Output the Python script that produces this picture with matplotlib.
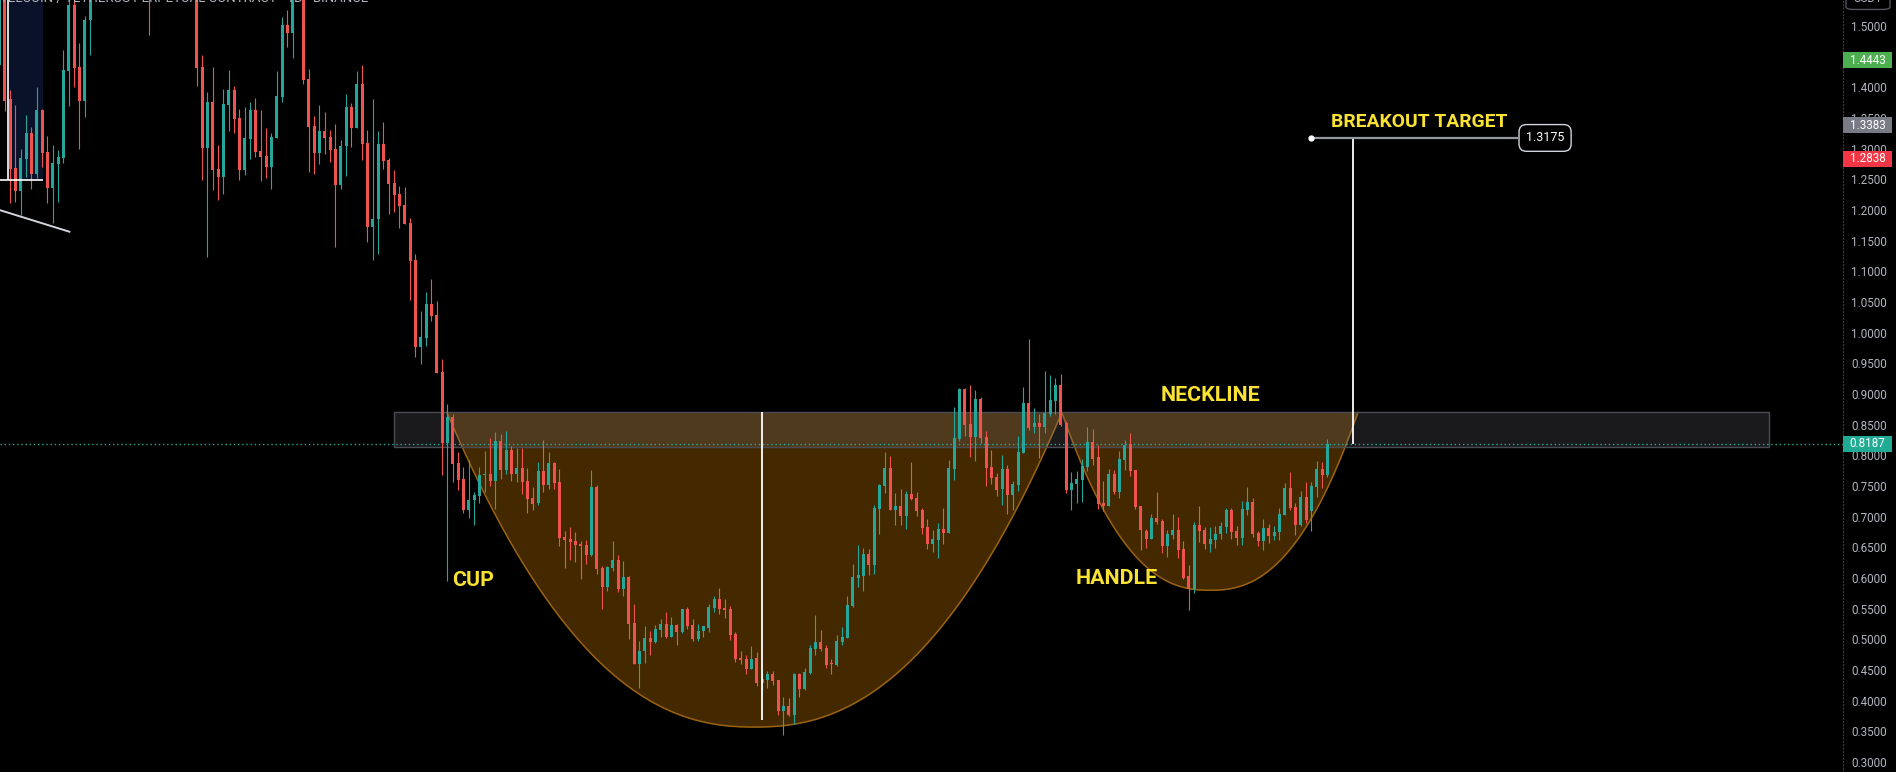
import numpy as np
import matplotlib.pyplot as plt
from matplotlib.patches import Rectangle, FancyBboxPatch
from matplotlib.transforms import blended_transform_factory

# daily candles, left to right (values above ~1.54 run off the top of the view)
opens = [
    1.436, 1.58, 1.381, 1.268, 1.231, 1.283, 1.325, 1.259, 1.363, 1.295,
    1.236, 1.275, 1.285, 1.427, 1.534, 1.433, 1.378, 1.510, 1.58, 1.62,
    1.65, 1.63, 1.67, 1.71, 1.68, 1.64, 1.61, 1.63, 1.62, 1.58,
    1.61, 1.64, 1.62, 1.65, 1.63, 1.60, 1.62, 1.59, 1.433, 1.301,
    1.376, 1.267, 1.254, 1.371, 1.396, 1.350, 1.265, 1.316, 1.363, 1.296,
    1.288, 1.270, 1.318, 1.384, 1.502, 1.489, 1.57, 1.60, 1.414, 1.337,
    1.293, 1.329, 1.319, 1.300, 1.241, 1.304, 1.368, 1.334, 1.405, 1.309,
    1.172, 1.185, 1.308, 1.282, 1.244, 1.226, 1.208, 1.179, 1.118, 0.977,
    0.991, 1.047, 1.029, 0.936, 0.820, 0.862, 0.787, 0.762, 0.711, 0.727,
    0.734, 0.768, 0.770, 0.758, 0.823, 0.776, 0.809, 0.770, 0.779, 0.758,
    0.731, 0.722, 0.774, 0.752, 0.787, 0.756, 0.667, 0.664, 0.660, 0.655,
    0.654, 0.637, 0.748, 0.616, 0.585, 0.617, 0.629, 0.582, 0.602, 0.527,
    0.460, 0.481, 0.502, 0.496, 0.515, 0.525, 0.504, 0.523, 0.512, 0.549,
    0.524, 0.500, 0.513, 0.519, 0.551, 0.566, 0.551, 0.549, 0.509, 0.469,
    0.468, 0.452, 0.469, 0.429, 0.434, 0.444, 0.434, 0.383, 0.391, 0.377,
    0.444, 0.419, 0.445, 0.484, 0.496, 0.486, 0.460, 0.458, 0.496, 0.502,
    0.554, 0.600, 0.603, 0.639, 0.621, 0.713, 0.750, 0.779, 0.711, 0.717,
    0.701, 0.737, 0.730, 0.711, 0.683, 0.655, 0.662, 0.680, 0.673, 0.778,
    0.827, 0.908, 0.851, 0.830, 0.892, 0.830, 0.781, 0.765, 0.745, 0.778,
    0.735, 0.752, 0.804, 0.885, 0.846, 0.853, 0.846, 0.867, 0.889, 0.915,
    0.853, 0.743, 0.753, 0.760, 0.781, 0.822, 0.797, 0.722, 0.717, 0.770,
    0.740, 0.792, 0.818, 0.776, 0.717, 0.677, 0.664, 0.698, 0.693, 0.652,
    0.670, 0.678, 0.647, 0.603, 0.582, 0.686, 0.678, 0.655, 0.662, 0.672,
    0.683, 0.711, 0.677, 0.665, 0.711, 0.724, 0.673, 0.660, 0.681, 0.668,
    0.675, 0.703, 0.747, 0.716, 0.686, 0.732, 0.710, 0.749, 0.778, 0.768,
]
highs = [
    1.60, 1.60, 1.396, 1.371, 1.300, 1.355, 1.335, 1.400, 1.365, 1.320,
    1.306, 1.298, 1.461, 1.56, 1.56, 1.472, 1.516, 1.60, 1.64, 1.68,
    1.70, 1.69, 1.74, 1.75, 1.72, 1.67, 1.66, 1.66, 1.65, 1.63,
    1.66, 1.68, 1.67, 1.69, 1.66, 1.64, 1.65, 1.61, 1.453, 1.392,
    1.433, 1.306, 1.397, 1.428, 1.402, 1.365, 1.368, 1.376, 1.383, 1.363,
    1.334, 1.326, 1.427, 1.515, 1.526, 1.60, 1.63, 1.62, 1.430, 1.353,
    1.371, 1.360, 1.330, 1.340, 1.314, 1.389, 1.374, 1.427, 1.436, 1.330,
    1.381, 1.329, 1.343, 1.284, 1.265, 1.239, 1.238, 1.187, 1.128, 1.035,
    1.066, 1.088, 1.052, 0.957, 0.884, 0.867, 0.805, 0.781, 0.792, 0.740,
    0.781, 0.807, 0.828, 0.838, 0.835, 0.840, 0.815, 0.812, 0.812, 0.779,
    0.748, 0.789, 0.825, 0.805, 0.789, 0.778, 0.677, 0.683, 0.675, 0.660,
    0.662, 0.776, 0.752, 0.620, 0.620, 0.660, 0.637, 0.628, 0.603, 0.558,
    0.497, 0.522, 0.513, 0.523, 0.533, 0.545, 0.536, 0.525, 0.549, 0.553,
    0.533, 0.525, 0.522, 0.558, 0.571, 0.584, 0.566, 0.554, 0.512, 0.481,
    0.474, 0.489, 0.479, 0.452, 0.448, 0.448, 0.434, 0.406, 0.404, 0.445,
    0.445, 0.453, 0.491, 0.539, 0.515, 0.491, 0.468, 0.507, 0.520, 0.571,
    0.623, 0.654, 0.649, 0.647, 0.719, 0.753, 0.805, 0.799, 0.739, 0.745,
    0.742, 0.789, 0.740, 0.714, 0.696, 0.678, 0.690, 0.714, 0.792, 0.879,
    0.910, 0.910, 0.915, 0.906, 0.895, 0.840, 0.809, 0.771, 0.800, 0.784,
    0.758, 0.832, 0.911, 0.990, 0.877, 0.867, 0.938, 0.931, 0.926, 0.933,
    0.856, 0.773, 0.774, 0.794, 0.846, 0.843, 0.817, 0.758, 0.778, 0.776,
    0.807, 0.825, 0.836, 0.776, 0.717, 0.680, 0.704, 0.740, 0.696, 0.678,
    0.704, 0.700, 0.660, 0.621, 0.691, 0.717, 0.683, 0.683, 0.685, 0.691,
    0.714, 0.714, 0.685, 0.725, 0.748, 0.730, 0.677, 0.696, 0.688, 0.685,
    0.714, 0.755, 0.773, 0.722, 0.742, 0.757, 0.757, 0.791, 0.789, 0.827,
]
lows = [
    1.433, 1.362, 1.211, 1.213, 1.192, 1.254, 1.234, 1.252, 1.270, 1.211,
    1.179, 1.213, 1.277, 1.370, 1.400, 1.300, 1.352, 1.453, 1.56, 1.59,
    1.60, 1.58, 1.64, 1.66, 1.62, 1.58, 1.57, 1.58, 1.485, 1.56,
    1.58, 1.60, 1.59, 1.61, 1.57, 1.56, 1.57, 1.402, 1.249, 1.123,
    1.233, 1.216, 1.226, 1.329, 1.326, 1.249, 1.257, 1.283, 1.287, 1.247,
    1.252, 1.234, 1.317, 1.376, 1.466, 1.448, 1.55, 1.405, 1.262, 1.259,
    1.275, 1.291, 1.278, 1.140, 1.234, 1.255, 1.303, 1.334, 1.282, 1.148,
    1.118, 1.128, 1.267, 1.193, 1.197, 1.171, 1.177, 1.053, 0.960, 0.949,
    0.978, 1.019, 0.934, 0.768, 0.595, 0.757, 0.744, 0.706, 0.698, 0.686,
    0.722, 0.740, 0.750, 0.712, 0.761, 0.770, 0.758, 0.757, 0.737, 0.706,
    0.711, 0.719, 0.740, 0.745, 0.745, 0.652, 0.616, 0.629, 0.626, 0.598,
    0.623, 0.636, 0.606, 0.550, 0.579, 0.611, 0.577, 0.571, 0.500, 0.460,
    0.421, 0.461, 0.474, 0.494, 0.504, 0.502, 0.504, 0.491, 0.510, 0.517,
    0.497, 0.498, 0.504, 0.512, 0.545, 0.541, 0.535, 0.499, 0.463, 0.460,
    0.443, 0.452, 0.424, 0.411, 0.420, 0.425, 0.377, 0.344, 0.375, 0.362,
    0.406, 0.417, 0.443, 0.474, 0.481, 0.453, 0.443, 0.457, 0.491, 0.502,
    0.553, 0.585, 0.579, 0.605, 0.607, 0.672, 0.739, 0.711, 0.686, 0.686,
    0.680, 0.727, 0.701, 0.672, 0.647, 0.642, 0.633, 0.655, 0.673, 0.760,
    0.823, 0.832, 0.797, 0.790, 0.820, 0.750, 0.753, 0.734, 0.719, 0.704,
    0.711, 0.742, 0.804, 0.841, 0.836, 0.796, 0.836, 0.864, 0.867, 0.848,
    0.739, 0.711, 0.722, 0.724, 0.774, 0.784, 0.712, 0.709, 0.717, 0.737,
    0.730, 0.776, 0.766, 0.713, 0.646, 0.649, 0.664, 0.688, 0.641, 0.634,
    0.664, 0.633, 0.598, 0.548, 0.576, 0.659, 0.647, 0.642, 0.649, 0.664,
    0.673, 0.664, 0.654, 0.654, 0.703, 0.667, 0.652, 0.646, 0.657, 0.662,
    0.662, 0.703, 0.711, 0.670, 0.685, 0.690, 0.677, 0.732, 0.747, 0.765,
]
closes = [
    1.58, 1.378, 1.267, 1.231, 1.285, 1.326, 1.259, 1.363, 1.293, 1.236,
    1.277, 1.286, 1.428, 1.534, 1.431, 1.378, 1.510, 1.58, 1.62, 1.65,
    1.63, 1.67, 1.71, 1.68, 1.64, 1.61, 1.63, 1.62, 1.58, 1.61,
    1.64, 1.62, 1.65, 1.63, 1.60, 1.62, 1.59, 1.431, 1.301, 1.376,
    1.265, 1.254, 1.373, 1.396, 1.348, 1.265, 1.317, 1.363, 1.295, 1.286,
    1.270, 1.319, 1.386, 1.502, 1.489, 1.57, 1.60, 1.412, 1.335, 1.293,
    1.329, 1.317, 1.298, 1.241, 1.304, 1.368, 1.334, 1.405, 1.308, 1.172,
    1.185, 1.308, 1.280, 1.242, 1.224, 1.207, 1.177, 1.117, 0.977, 0.993,
    1.047, 1.027, 0.934, 0.820, 0.862, 0.786, 0.760, 0.711, 0.727, 0.735,
    0.768, 0.770, 0.758, 0.823, 0.776, 0.809, 0.770, 0.779, 0.757, 0.729,
    0.721, 0.774, 0.752, 0.787, 0.755, 0.665, 0.662, 0.659, 0.654, 0.652,
    0.637, 0.748, 0.615, 0.585, 0.618, 0.629, 0.582, 0.602, 0.525, 0.460,
    0.481, 0.502, 0.496, 0.517, 0.525, 0.504, 0.523, 0.512, 0.549, 0.522,
    0.500, 0.513, 0.521, 0.553, 0.566, 0.549, 0.548, 0.507, 0.468, 0.467,
    0.452, 0.468, 0.429, 0.435, 0.444, 0.432, 0.383, 0.391, 0.377, 0.444,
    0.419, 0.447, 0.486, 0.496, 0.484, 0.458, 0.459, 0.497, 0.504, 0.556,
    0.602, 0.605, 0.639, 0.621, 0.714, 0.752, 0.779, 0.711, 0.717, 0.701,
    0.737, 0.729, 0.709, 0.682, 0.655, 0.664, 0.680, 0.673, 0.779, 0.828,
    0.908, 0.849, 0.830, 0.892, 0.828, 0.779, 0.763, 0.743, 0.778, 0.735,
    0.753, 0.805, 0.885, 0.845, 0.853, 0.846, 0.869, 0.890, 0.915, 0.850,
    0.743, 0.755, 0.761, 0.783, 0.822, 0.794, 0.721, 0.717, 0.770, 0.740,
    0.794, 0.817, 0.774, 0.716, 0.678, 0.664, 0.698, 0.691, 0.652, 0.672,
    0.678, 0.646, 0.600, 0.582, 0.686, 0.677, 0.655, 0.664, 0.672, 0.685,
    0.711, 0.675, 0.665, 0.712, 0.724, 0.672, 0.660, 0.681, 0.668, 0.675,
    0.704, 0.747, 0.714, 0.686, 0.732, 0.695, 0.750, 0.778, 0.768, 0.8187,
]

# price scale
price_ticks = [round(0.30 + 0.05 * k, 2) for k in range(25)]
# coloured price tags on the scale
tag_prices = [1.4443, 1.3383, 1.2838, 0.8187]
tag_colors = ['#4caf50', '#787b86', '#f23645', '#22ab94']
last_price = 0.8187

# pattern drawing (bar index, price)
neck_lo, neck_hi = 0.814, 0.870
neck_x0, neck_x1 = 74.0, 331.8
cup_x0, cup_x1, cup_bottom = 83.9, 199.2, 0.357
handle_x0, handle_x1, handle_bottom = 199.2, 254.7, 0.580
cup_mid_x, cup_mid_lo = 143.0, 0.368
target_x, target_price = 253.8, 1.3175
target_line_x0, target_line_x1, target_tag_x = 245.85, 284.7, 289.8

UP, DOWN = '#26a69a', '#ef5350'
YELLOW = '#f9e231'
ORANGE = '#ff9800'

fig = plt.figure(figsize=(18.96, 7.72), dpi=100, facecolor='black')
ax = fig.add_axes([0, 0, 1843 / 1896, 1])
ax.set_facecolor('black')

idx = np.arange(len(closes))
o = np.array(opens)
c = np.array(closes)
h = np.array(highs)
l = np.array(lows)
col = np.where(c >= o, UP, DOWN)

ax.vlines(idx, l, h, colors=col, linewidth=0.8, zorder=5)
body = np.maximum(np.abs(c - o), 0.0018)
ax.bar(idx, body, bottom=np.minimum(o, c), width=0.6, color=col, linewidth=0, zorder=6)


def arc(x0, x1, top, bottom, p, n=400):
    xs = np.linspace(x0, x1, n)
    u = (xs - (x0 + x1) / 2) / ((x1 - x0) / 2)
    return xs, bottom + (top - bottom) * np.abs(u) ** p


# neckline zone
ax.add_patch(Rectangle((neck_x0, neck_lo), neck_x1 - neck_x0, neck_hi - neck_lo,
                       facecolor='#787b86', alpha=0.22, edgecolor='none', zorder=2))
ax.add_patch(Rectangle((neck_x0, neck_lo), neck_x1 - neck_x0, neck_hi - neck_lo,
                       facecolor='none', edgecolor='#4a4c55', linewidth=1, zorder=2))

for x0, x1, bot, p in [(cup_x0, cup_x1, cup_bottom, 2.3), (handle_x0, handle_x1, handle_bottom, 2.4)]:
    xs, ys = arc(x0, x1, neck_hi, bot, p)
    ax.fill_between(xs, ys, neck_hi, color=ORANGE, alpha=0.27, linewidth=0, zorder=1)
    ax.plot(xs, ys, color='#9a6210', linewidth=1.1, zorder=1.5)

# last price line
ax.axhline(last_price, color='#22ab94', linestyle=(0, (1, 2)), linewidth=1, zorder=3)

# cup depth and breakout projection
ax.vlines(cup_mid_x, cup_mid_lo, neck_hi, color='white', linewidth=1.3, zorder=8)
ax.vlines(target_x, last_price, target_price, color='white', linewidth=1.3, zorder=8)
ax.hlines(target_price, target_line_x0, target_line_x1, color='#9598a1', linewidth=1.6, zorder=8)
ax.plot(target_line_x0, target_price, 'o', color='white', markersize=3.5, zorder=9)
ax.text(target_tag_x, target_price, '1.3175', color='white', fontsize=9, ha='center', va='center',
        family=['Roboto', 'DejaVu Sans'], zorder=10,
        bbox=dict(boxstyle='round,pad=0.55,rounding_size=0.6', fc='black', ec='#d1d4dc', lw=1))

lab = dict(color=YELLOW, fontweight='bold', family=['Roboto', 'DejaVu Sans'],
           va='center', ha='left', zorder=10)
ax.text(84.85, 0.5967, 'CUP', fontsize=15.4, **lab)
ax.text(201.8, 0.5984, 'HANDLE', fontsize=15.4, **lab)
ax.text(217.8, 0.8976, 'NECKLINE', fontsize=15.4, **lab)
ax.text(249.7, 1.3443, 'BREAKOUT TARGET', fontsize=13.9, **lab)

# older drawings at the top left
ax.add_patch(Rectangle((1.65, 1.249), 6.45, 0.4, facecolor='#0a1229', edgecolor='none', zorder=0.5))
ax.vlines(1.65, 1.249, 1.65, color='white', linewidth=1.2, zorder=7)
ax.hlines(1.249, -1, 8.1, color='white', linewidth=1.2, zorder=7)
ax.plot([-1, 13.1], [1.2027, 1.1646], color='#d1d4dc', linewidth=1.4, zorder=7)

ax.set_xlim(0.094, 345.66)
ax.set_ylim(0.2837, 1.5424)

# price scale on the right
ax.yaxis.tick_right()
ax.set_yticks(price_ticks)
ax.set_yticklabels([f'{v:.4f}' for v in price_ticks])
ax.tick_params(axis='y', length=0, pad=6, labelcolor='#b2b5be', labelsize=8.4)
for t in ax.get_yticklabels():
    t.set_family(['Roboto', 'DejaVu Sans'])
ax.set_xticks([])
for s in ['top', 'bottom', 'left']:
    ax.spines[s].set_visible(False)
ax.spines['right'].set_color('#3a3d45')
ax.spines['right'].set_linestyle((0, (1, 2)))

tr = blended_transform_factory(ax.transAxes, ax.transData)
wfrac = 49 / 1843
for p, cc in zip(tag_prices, tag_colors):
    ax.add_patch(Rectangle((1.0, p - 0.013), wfrac, 0.026, transform=tr, facecolor=cc,
                           edgecolor='none', clip_on=False, zorder=20))
    ax.text(1.0 + wfrac / 2, p, f'{p:.4f}', transform=tr, color='white', fontsize=8.4,
            ha='center', va='center', family=['Roboto', 'DejaVu Sans'], clip_on=False, zorder=21)

# currency tag cut by the top edge
ax.add_patch(FancyBboxPatch((1.0 + 3 / 1843, 1.527), 44 / 1843, 0.04, transform=tr,
                            boxstyle='round,pad=0,rounding_size=0.004', facecolor='black',
                            edgecolor='#50535e', linewidth=1, clip_on=False, zorder=20))
ax.text(1.0 + 25 / 1843, 1.5445, 'USDT', transform=tr, color='#b2b5be', fontsize=8.4,
        ha='center', va='center', family=['Roboto', 'DejaVu Sans'], clip_on=False, zorder=21)

# symbol header cut by the top edge
ax.text(0.004, 1.5455, 'TELCOIN / TETHERUS PERPETUAL CONTRACT · 1D · BINANCE', color='#b2b5be',
        fontsize=9.5, ha='left', va='center', family=['Roboto', 'DejaVu Sans'], zorder=10)

fig.savefig('out.png', dpi=100, facecolor='black')
